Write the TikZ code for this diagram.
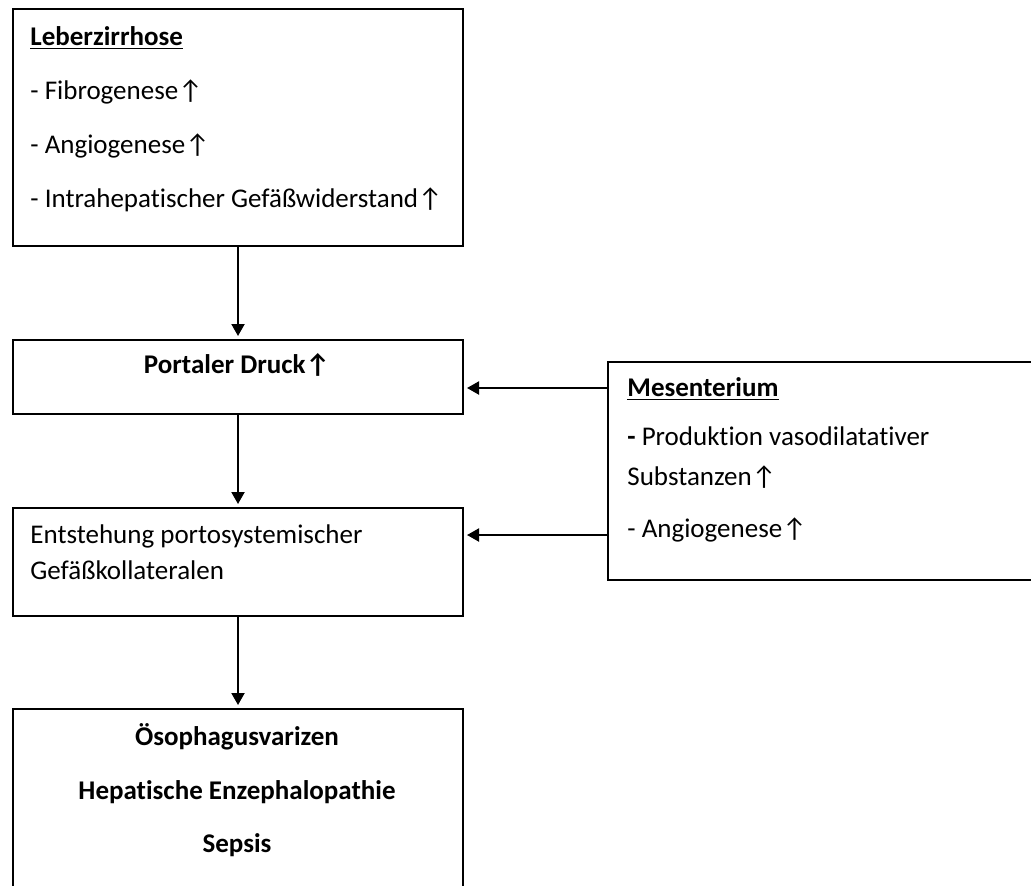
\documentclass[tikz,border=0pt]{standalone}
\usepackage{fontspec}
\setmainfont{Carlito}[Ligatures=NoCommon]
\usepackage{tikz}
\usetikzlibrary{arrows.meta}

\newcommand{\boxfont}{\fontsize{13.5}{16}\selectfont}

\tikzset{
  box/.style={shape=rectangle,draw=black,line width=1pt,anchor=north west,inner sep=0pt},
  txt/.style={anchor=base west,inner sep=0pt,font=\boxfont},
  ctxt/.style={anchor=base,inner sep=0pt,font=\boxfont\bfseries},
  arr/.style={-{Triangle[length=6pt,width=6.5pt]},line width=1pt,shorten >=1.5pt}
}

\begin{document}
\begin{tikzpicture}[x=0.5pt,y=-0.5pt]
                \clip (0,0) rectangle (1031,885);
                \node[box,minimum width=225pt,minimum height=118.5pt] (leber) at (12,8) {};
                \node[box,minimum width=225pt,minimum height=37pt] (portal) at (12,339) {};
                \node[box,minimum width=225pt,minimum height=54pt] (entst) at (12,507) {};
                \node[box,minimum width=225pt,minimum height=100pt] (folgen) at (12,708) {};
                \node[box,minimum width=240pt,minimum height=109pt] (mesent) at (607,361) {};

                \node[txt] (l0) at (30,45) {\textbf{\underline{Leberzirrhose}}};
                \node[txt] (l1) at (30,99) {- Fibrogenese↑};
                \node[txt] (l2) at (30,153) {- Angiogenese↑};
                \node[txt] (l3) at (30,207) {- Intrahepatischer Gefäßwiderstand↑};

                \node[ctxt] (p0) at (237,373) {Portaler Druck↑};

                \node[txt] (e1) at (30,543) {Entstehung portosystemischer};
                \node[txt] (e2) at (30,579) {Gefäßkollateralen};

                \node[ctxt] (f1) at (237,745) {Ösophagusvarizen};
                \node[ctxt] (f2) at (237,799) {Hepatische Enzephalopathie};
                \node[ctxt] (f3) at (237,852) {Sepsis};

                \node[txt] (m0) at (627,396) {\textbf{\underline{Mesenterium}}};
                \node[txt] (m1) at (627,445) {\textbf{-} Produktion vasodilatativer};
                \node[txt] (m2) at (627,485) {Substanzen↑};
                \node[txt] (m3) at (627,537) {- Angiogenese↑};

                \coordinate (a1) at ([yshift=-5.5pt]portal.east);
                \coordinate (a2) at ([yshift=13.5pt]entst.east);

                \path [arr](leber) edge (portal);
                \path [arr](portal) edge (entst);
                \path [arr](entst) edge (folgen);
                \path [arr](mesent.west |- a1) edge (a1);
                \path [arr](mesent.west |- a2) edge (a2);
            \end{tikzpicture}
\end{document}
